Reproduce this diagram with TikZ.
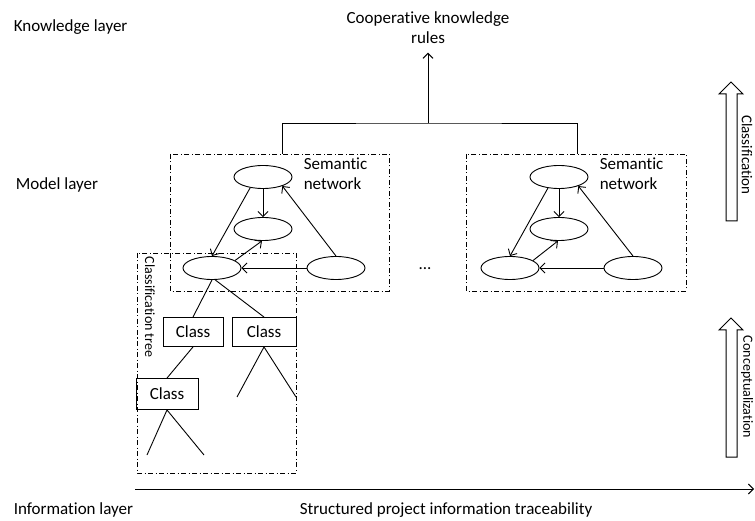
\documentclass[tikz,border=0pt]{standalone}
\usepackage{fontspec}
\setmainfont{Carlito}[Ligatures=NoCommon]
\usetikzlibrary{shapes.geometric,arrows.meta}
\tikzset{
  ent/.style={ellipse,draw,minimum width=58pt,minimum height=23pt,inner sep=0pt},
  cls/.style={rectangle,draw,minimum width=60pt,minimum height=29pt,inner sep=0pt},
  frame/.style={draw,dash pattern=on 5pt off 2.5pt on 1pt off 2.5pt},
  arr/.style={-{Straight Barb[length=5pt,width=10pt]}},
  blockarr/.style={draw,line width=1pt,fill=white},
  sidelbl/.style={rotate=-90,font=\fontsize{14}{16}\selectfont}
}
\begin{document}
\begin{tikzpicture}[x=1pt,y=-1pt,line width=0.9pt,font=\fontsize{17}{20}\selectfont]
  \useasboundingbox (0,0) rectangle (755,521);
  % layer names
  \node[anchor=west] (know) at (10,27) {Knowledge layer};
  \node[anchor=west] (model) at (12,185) {Model layer};
  \node[anchor=west] (info) at (10,510) {Information layer};
  \node[align=center] (rules) at (428,28) {Cooperative knowledge\\rules};
  % semantic network frames
  \draw[frame] (170,154) rectangle (389,291);
  \draw[frame] (466,154) rectangle (686,291);
  \node[anchor=west,align=left] (sn1) at (300,174) {Semantic\\network};
  \node[anchor=west,align=left] (sn2) at (596,174) {Semantic\\network};
  % left network
  \node[ent] (t1) at (263,177) {};
  \node[ent] (m1) at (263,229) {};
  \node[ent] (l1) at (212,268) {};
  \node[ent] (r1) at (336,268) {};
  \draw[arr] (t1) -- (m1);
  \draw[arr] (t1.220) -- (l1.north);
  \draw[arr] (l1.18) -- (m1.265);
  \draw[arr] (r1) -- (l1);
  \draw[arr] (r1.north) -- (t1.335);
  % right network
  \node[ent] (t2) at (559,177) {};
  \node[ent] (m2) at (559,229) {};
  \node[ent] (l2) at (510,268) {};
  \node[ent] (r2) at (633,268) {};
  \draw[arr] (t2) -- (m2);
  \draw[arr] (t2.225) -- (l2.north);
  \draw[arr] (l2.18) -- (m2.265);
  \draw[arr] (r2) -- (l2);
  \draw[arr] (r2.north) -- (t2.335);
  \node (dots) at (425,269) {...};
  % joining to the rules
  \coordinate (j1) at (282,154);
  \coordinate (j2) at (577,154);
  \coordinate (hub) at (428,123);
  \draw (j1) |- (hub) -| (j2);
  \draw[arr] (hub) -- ([yshift=-5pt]rules.south);
  % classification tree
  \draw[frame] (137,253) rectangle (296,473);
  \node[sidelbl] (ctree) at (150,307) {Classification tree};
  \node[cls] (c1) at (193,332) {Class};
  \node[cls,minimum width=64pt] (c2) at (264,332) {Class};
  \node[cls,minimum width=62pt,minimum height=31pt] (c3) at (167,394) {Class};
  \draw (l1.south) -- (c1.north);
  \draw (l1.285) -- (c2.north);
  \draw (c1.south) -- (c3.north);
  \coordinate (c2a) at (237,397);
  \coordinate (c2b) at (296,397);
  \coordinate (c3a) at (147,455);
  \coordinate (c3b) at (204,455);
  \draw (c2a) -- (c2.south) -- (c2b);
  \draw (c3a) -- (c3.south) -- (c3b);
  % traceability axis
  \coordinate (ax0) at (135,489);
  \coordinate (ax1) at (754,489);
  \draw[arr] (ax0) -- (ax1);
  \node (trace) at (446,510) {Structured project information traceability};
  % block arrows
  \draw[blockarr] (726,221) -- (726,94) -- (719,94) -- (731,82) -- (743,94) -- (737,94) -- (737,221) -- cycle;
  \node[sidelbl,font=\fontsize{15}{17}\selectfont] (classif) at (747,155) {Classification};
  \draw[blockarr] (726,457) -- (726,330) -- (719,330) -- (731,318) -- (743,330) -- (737,330) -- (737,457) -- cycle;
  \node[sidelbl] (concept) at (747,387) {Conceptualization};
\end{tikzpicture}
\end{document}
